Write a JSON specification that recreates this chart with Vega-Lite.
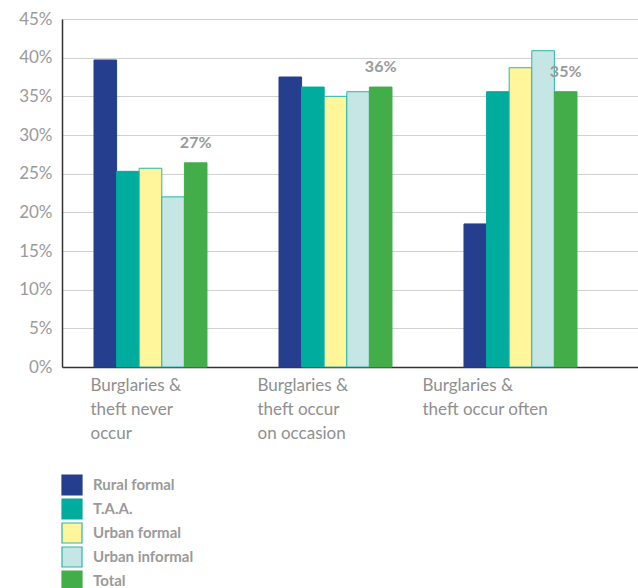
{
  "$schema": "https://vega.github.io/schema/vega-lite/v6.json",
  "width": 576,
  "height": 348,
  "autosize": "none",
  "padding": {"left": 62, "top": 19, "right": 0, "bottom": 221},
  "background": "white",
  "config": {"view": {"stroke": null}, "font": "Lato"},
  "data": {
    "values": [
      {"group": "never", "series": "Rural formal", "value": 39.7},
      {"group": "never", "series": "T.A.A.", "value": 25.3},
      {"group": "never", "series": "Urban formal", "value": 25.7},
      {"group": "never", "series": "Urban informal", "value": 22.0},
      {"group": "never", "series": "Total", "value": 26.4, "label": "27%"},
      {"group": "occasion", "series": "Rural formal", "value": 37.5},
      {"group": "occasion", "series": "T.A.A.", "value": 36.2},
      {"group": "occasion", "series": "Urban formal", "value": 35.0},
      {"group": "occasion", "series": "Urban informal", "value": 35.6},
      {"group": "occasion", "series": "Total", "value": 36.2, "label": "36%"},
      {"group": "often", "series": "Rural formal", "value": 18.5},
      {"group": "often", "series": "T.A.A.", "value": 35.6},
      {"group": "often", "series": "Urban formal", "value": 38.7},
      {"group": "often", "series": "Urban informal", "value": 40.9},
      {"group": "often", "series": "Total", "value": 35.6, "label": "35%"}
    ]
  },
  "encoding": {
    "x": {
      "field": "group",
      "type": "nominal",
      "sort": ["never", "occasion", "often"],
      "scale": {"paddingInner": 0.3892, "paddingOuter": 0.2514, "align": 0.344},
      "axis": {
        "title": null,
        "labelAngle": 0,
        "ticks": false,
        "domainColor": "#333333",
        "domainWidth": 1.5,
        "labelAlign": "left",
        "labelBaseline": "top",
        "labelFont": "Lato",
        "labelFontSize": 17,
        "labelColor": "#8f8f8f",
        "labelPadding": 10,
        "labelLineHeight": 24,
        "labelOffset": {
          "condition": [
            {"test": "datum.value == 'never'", "value": -60},
            {"test": "datum.value == 'occasion'", "value": -78}
          ],
          "value": -98
        },
        "labelExpr": "datum.value == 'never' ? ['Burglaries &', 'theft never', 'occur'] : datum.value == 'occasion' ? ['Burglaries &', 'theft occur', 'on occasion'] : ['Burglaries &', 'theft occur often']"
      }
    },
    "xOffset": {
      "field": "series",
      "type": "nominal",
      "sort": ["Rural formal", "T.A.A.", "Urban formal", "Urban informal", "Total"],
      "scale": {"domain": ["Rural formal", "T.A.A.", "Urban formal", "Urban informal", "Total"], "paddingInner": 0, "paddingOuter": 0}
    },
    "y": {
      "field": "value",
      "type": "quantitative",
      "scale": {"domain": [0, 45], "nice": false},
      "axis": {
        "title": null,
        "values": [0, 5, 10, 15, 20, 25, 30, 35, 40, 45],
        "labelExpr": "datum.value + '%'",
        "labelOverlap": false,
        "ticks": false,
        "domainColor": "#333333",
        "domainWidth": 1.5,
        "gridColor": "#d0d0d0",
        "gridWidth": 1.2,
        "labelFont": "Lato",
        "labelFontSize": 17,
        "labelColor": "#9a9a9a",
        "labelPadding": 10
      }
    }
  },
  "layer": [
    {
      "mark": {"type": "bar", "strokeWidth": 1},
      "encoding": {
        "fill": {
          "field": "series",
          "type": "nominal",
          "sort": ["Rural formal", "T.A.A.", "Urban formal", "Urban informal", "Total"],
          "scale": {
            "domain": ["Rural formal", "T.A.A.", "Urban formal", "Urban informal", "Total"],
            "range": ["#253F8E", "#00AC9E", "#FFF69B", "#C5E6E4", "#43AD4A"]
          },
          "legend": {
            "title": null,
            "orient": "none",
            "legendX": -1,
            "legendY": 455,
            "direction": "vertical",
            "symbolType": "square",
            "symbolSize": 400,
            "symbolStrokeWidth": 1.2,
            "symbolOpacity": 1,
            "rowPadding": -3,
            "labelFont": "Lato",
            "labelFontSize": 15,
            "labelFontWeight": "bold",
            "labelColor": "#9a9a9a",
            "labelOffset": 10,
            "padding": 0
          }
        },
        "stroke": {
          "field": "series",
          "type": "nominal",
          "sort": ["Rural formal", "T.A.A.", "Urban formal", "Urban informal", "Total"],
          "scale": {
            "domain": ["Rural formal", "T.A.A.", "Urban formal", "Urban informal", "Total"],
            "range": ["#253F8E", "#00AC9E", "#2BB5A8", "#2BB5A8", "#43AD4A"]
          },
          "legend": null
        }
      }
    },
    {
      "transform": [{"filter": "datum.label != null"}],
      "mark": {"type": "text", "baseline": "bottom", "dy": -12, "font": "Lato", "fontSize": 16, "fontWeight": "bold", "color": "#9a9a9a"},
      "encoding": {
        "text": {"field": "label"}
      }
    }
  ]
}
